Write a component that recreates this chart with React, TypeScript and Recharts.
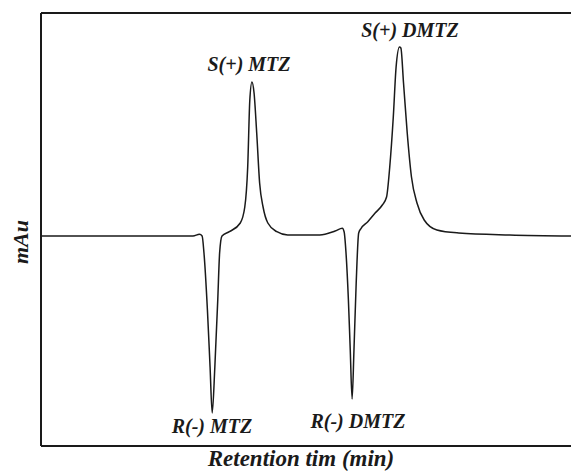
import { LineChart, Line, XAxis, YAxis, ReferenceDot } from "recharts";

// retention time (min) and detector signal (mAu)
const time = [
  0, 2.868, 2.99, 3.04, 3.075, 3.14, 3.19, 3.23, 3.28, 3.335, 3.37, 3.415,
  3.555, 3.76, 3.845, 3.9, 3.94, 3.98, 4.02, 4.07, 4.125, 4.19, 4.28, 4.45,
  4.655, 5.26, 5.55, 5.685, 5.72, 5.755, 5.8, 5.835, 5.87, 5.905, 5.947,
  5.994, 6.04, 6.166, 6.3, 6.44, 6.52, 6.58, 6.647, 6.7, 6.764, 6.79, 6.84,
  6.91, 6.99, 7.094, 7.23, 7.47, 7.88, 8.845, 10,
];
const signal = [
  -1, -1, 0.7, -1, -18, -75, -132, -178, -132, -65, -18, -1,
  3.3, 12, 28, 68, 135, 153, 142, 102, 52, 28, 12, 3.3,
  0, 0, 4, 6.7, 3, -18, -65, -115, -164, -115, -48,
  2, 6.7, 13.3, 21.7, 30, 38, 68, 118, 168, 188, 187, 152,
  102, 58, 32, 15, 5, 2, 0, -1,
];

// peak labels
const peakNames = ["S(+) MTZ", "S(+) DMTZ", "R(-) MTZ", "R(-) DMTZ"];
const peakTime = [3.925, 6.962, 3.226, 5.98];
const peakSignal = [164, 198, -198, -193];

const data = time.map((t, i) => ({ t, v: signal[i] }));

const FONT = "'Liberation Serif', 'Times New Roman', serif";
const INK = "#1a1a1a";

const titleStyle = {
  fontFamily: FONT,
  fontWeight: "bold",
  fontStyle: "italic",
  fill: INK,
} as const;

export default function App() {
  return (
    <div style={{ position: "absolute", left: 0, top: 0, width: 571, height: 472, background: "#fff" }}>
      <LineChart width={571} height={472} data={data} margin={{ top: 0, right: 0, bottom: 0, left: 0 }}>
        <XAxis
          dataKey="t"
          type="number"
          domain={[0, 10]}
          height={26}
          tick={false}
          tickLine={false}
          axisLine={{ stroke: INK, strokeWidth: 2 }}
          label={{
            content: ({ viewBox }: any) => (
              <text x={viewBox.x + viewBox.width / 2 - 5} y={466} textAnchor="middle" fontSize={23} {...titleStyle}>
                Retention tim (min)
              </text>
            ),
          }}
        />
        <XAxis
          xAxisId="top"
          orientation="top"
          type="number"
          domain={[0, 10]}
          height={13}
          tick={false}
          tickLine={false}
          axisLine={{ stroke: INK, strokeWidth: 2 }}
        />
        <YAxis
          type="number"
          domain={[-211, 222]}
          allowDataOverflow
          width={41}
          tick={false}
          tickLine={false}
          axisLine={{ stroke: INK, strokeWidth: 2 }}
          label={{
            content: () => (
              <text x={28} y={242} transform="rotate(-90 28 242)" textAnchor="middle" fontSize={22} {...titleStyle}>
                mAu
              </text>
            ),
          }}
        />
        <Line
          type="monotoneX"
          dataKey="v"
          stroke={INK}
          strokeWidth={1.5}
          dot={false}
          isAnimationActive={false}
        />
        {peakNames.map((name, i) => (
          <ReferenceDot
            key={name}
            x={peakTime[i]}
            y={peakSignal[i]}
            r={0}
            shape={(p: any) => (
              <text x={p.cx} y={p.cy} textAnchor="middle" fontSize={20} {...titleStyle}>
                {name}
              </text>
            )}
          />
        ))}
      </LineChart>
    </div>
  );
}
